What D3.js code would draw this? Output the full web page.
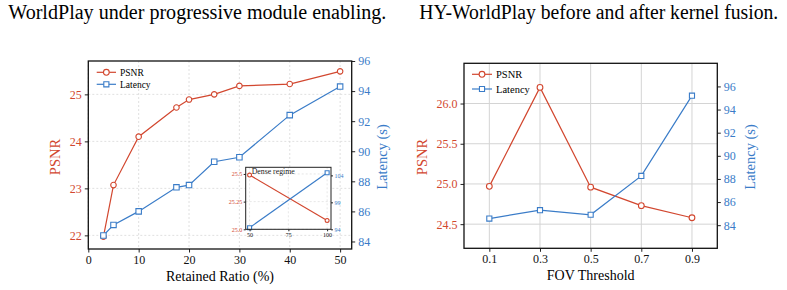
<!DOCTYPE html>
<html>
<head>
<meta charset="utf-8">
<script src="https://cdn.jsdelivr.net/npm/d3@7"></script>
<style>
  body { margin: 0; background: #fff; }
  svg, svg text { font-family: "Liberation Serif", "DejaVu Serif", serif !important; }
</style>
</head>
<body>
<div id="chart"></div>
<script>
// ---- data: left panel (retained ratio sweep) ----
const ratioX = [3, 5, 10, 17.5, 20, 25, 30, 40, 50];
const ratioPsnr = [21.97, 23.07, 24.1, 24.72, 24.89, 25.0, 25.18, 25.22, 25.49];
const ratioLatency = [84.4, 85.1, 86.0, 87.6, 87.75, 89.3, 89.6, 92.4, 94.3];

// inset: dense regime
const denseX = [50, 100];
const densePsnr = [25.49, 25.08];
const denseLatency = [94.3, 104.5];

// ---- data: right panel (FOV threshold sweep) ----
const fovX = [0.1, 0.3, 0.5, 0.7, 0.9];
const fovPsnr = [24.97, 26.2, 24.96, 24.73, 24.58];
const fovLatency = [84.57, 85.3, 84.9, 88.26, 95.2];

// tick labels
const ratioTicks = [0, 10, 20, 30, 40, 50];
const ratioPsnrTicks = [22, 23, 24, 25];
const latencyTicks = [84, 86, 88, 90, 92, 94, 96];
const denseXTicks = [50, 75, 100];
const densePsnrTicks = [25.0, 25.25, 25.5];
const denseLatTicks = [94, 99, 104];
const fovTicks = [0.1, 0.3, 0.5, 0.7, 0.9];
const fovPsnrTicks = [24.5, 25.0, 25.5, 26.0];

const RED = "#d2472f";
const BLUE = "#3a7cc8";

const svg = d3.select("#chart").append("svg")
    .attr("width", 787)
    .attr("height", 290);

// captions (end of the paper's figure captions)
svg.append("text")
    .attr("x", 8.3).attr("y", 19)
    .attr("font-size", 20)
    .attr("textLength", 378).attr("lengthAdjust", "spacingAndGlyphs")
    .text("WorldPlay under progressive module enabling.");
svg.append("text")
    .attr("x", 419.3).attr("y", 19)
    .attr("font-size", 20)
    .attr("textLength", 359).attr("lengthAdjust", "spacingAndGlyphs")
    .text("HY-WorldPlay before and after kernel fusion.");

// draws one series (line + open markers)
function drawSeries(g, xs, ys, x, y, color, shape, size) {
    const pts = xs.map((v, i) => [x(v), y(ys[i])]);
    g.append("path")
        .datum(pts)
        .attr("d", d3.line())
        .attr("fill", "none")
        .attr("stroke", color)
        .attr("stroke-width", 1.2);
    g.selectAll(null)
        .data(pts)
        .join("path")
        .attr("transform", d => `translate(${d[0]},${d[1]})`)
        .attr("d", d3.symbol().type(shape === "circle" ? d3.symbolCircle : d3.symbolSquare).size(size))
        .attr("fill", "#fff")
        .attr("stroke", color)
        .attr("stroke-width", 1.1);
}

function styleAxis(a, color, fs) {
    a.attr("font-family", null);
    a.select(".domain").remove();
    a.selectAll(".tick line").attr("stroke", "#222").attr("stroke-width", 1);
    a.selectAll(".tick text")
        .attr("fill", color)
        .attr("font-size", fs);
}

function legend(g, x0, y0, gap, fs, lineLen) {
    const items = [["PSNR", RED, "circle"], ["Latency", BLUE, "square"]];
    items.forEach((it, i) => {
        const yy = y0 + i * gap;
        g.append("line")
            .attr("x1", x0).attr("x2", x0 + lineLen)
            .attr("y1", yy).attr("y2", yy)
            .attr("stroke", it[1]).attr("stroke-width", 1.2);
        g.append("path")
            .attr("transform", `translate(${x0 + lineLen / 2},${yy})`)
            .attr("d", d3.symbol().type(it[2] === "circle" ? d3.symbolCircle : d3.symbolSquare).size(26))
            .attr("fill", "#fff").attr("stroke", it[1]).attr("stroke-width", 1.1);
        g.append("text")
            .attr("x", x0 + lineLen + 4).attr("y", yy)
            .attr("dy", "0.35em")
            .attr("font-size", fs)
            .text(it[0]);
    });
}

// ================= left panel =================
{
    const L = 88.3, R = 351.7, T = 61, B = 249;
    const x = d3.scaleLinear().domain([0, 52.3]).range([L, R]);
    const yL = d3.scaleLinear().domain([21.71, 25.71]).range([B, T]);
    const yR = d3.scaleLinear().domain([83.5, 96]).range([B, T]);
    const g = svg.append("g");

    // dotted grid
    g.append("g").selectAll("line").data(ratioTicks).join("line")
        .attr("x1", d => x(d)).attr("x2", d => x(d))
        .attr("y1", T).attr("y2", B)
        .attr("stroke", "#d8d8d8").attr("stroke-width", 0.8).attr("stroke-dasharray", "2,2");
    g.append("g").selectAll("line").data(ratioPsnrTicks).join("line")
        .attr("x1", L).attr("x2", R)
        .attr("y1", d => yL(d)).attr("y2", d => yL(d))
        .attr("stroke", "#d8d8d8").attr("stroke-width", 0.8).attr("stroke-dasharray", "2,2");

    drawSeries(g, ratioX, ratioPsnr, x, yL, RED, "circle", 24);
    drawSeries(g, ratioX, ratioLatency, x, yR, BLUE, "square", 30);

    const ax = g.append("g").attr("transform", `translate(0,${B})`)
        .call(d3.axisBottom(x).tickValues(ratioTicks).tickFormat(d3.format("d")).tickSize(3.5).tickPadding(3));
    styleAxis(ax, "#111", 12);
    const al = g.append("g").attr("transform", `translate(${L},0)`)
        .call(d3.axisLeft(yL).tickValues(ratioPsnrTicks).tickFormat(d3.format("d")).tickSize(3.5).tickPadding(3));
    styleAxis(al, RED, 12);
    const ar = g.append("g").attr("transform", `translate(${R},0)`)
        .call(d3.axisRight(yR).tickValues(latencyTicks).tickFormat(d3.format("d")).tickSize(3.5).tickPadding(3));
    styleAxis(ar, BLUE, 12);

    g.append("rect")
        .attr("x", L).attr("y", T).attr("width", R - L).attr("height", B - T)
        .attr("fill", "none").attr("stroke", "#111").attr("stroke-width", 1.3);

    legend(g, 96.7, 72.3, 12, 9.5, 19.3);

    // axis titles
    g.append("text")
        .attr("transform", "translate(55,157) rotate(-90)")
        .attr("text-anchor", "middle").attr("dy", "0.35em")
        .attr("font-size", 14.5).attr("fill", RED).text("PSNR");
    g.append("text")
        .attr("transform", "translate(381.7,157) rotate(-90)")
        .attr("text-anchor", "middle").attr("dy", "0.35em")
        .attr("font-size", 14.5).attr("fill", BLUE).text("Latency (s)");
    g.append("text")
        .attr("x", (L + R) / 2).attr("y", 281)
        .attr("text-anchor", "middle")
        .attr("font-size", 14).text("Retained Ratio (%)");

    // ---- inset ----
    const iL = 245.7, iR = 331, iT = 167.3, iB = 229.3;
    const ix = d3.scaleLinear().domain([47.5, 102.5]).range([iL, iR]);
    const iyL = d3.scaleLinear().domain([25.0, 25.56]).range([iB, iT]);
    const iyR = d3.scaleLinear().domain([94, 105.5]).range([iB, iT]);
    const gi = g.append("g");
    gi.append("rect")
        .attr("x", iL).attr("y", iT).attr("width", iR - iL).attr("height", iB - iT)
        .attr("fill", "#fff");
    gi.append("g").selectAll("line").data(denseXTicks).join("line")
        .attr("x1", d => ix(d)).attr("x2", d => ix(d))
        .attr("y1", iT).attr("y2", iB)
        .attr("stroke", "#ddd").attr("stroke-width", 0.7).attr("stroke-dasharray", "2,2");
    gi.append("g").selectAll("line").data(densePsnrTicks).join("line")
        .attr("x1", iL).attr("x2", iR)
        .attr("y1", d => iyL(d)).attr("y2", d => iyL(d))
        .attr("stroke", "#ddd").attr("stroke-width", 0.7).attr("stroke-dasharray", "2,2");

    drawSeries(gi, denseX, densePsnr, ix, iyL, RED, "circle", 12);
    drawSeries(gi, denseX, denseLatency, ix, iyR, BLUE, "square", 16);

    const iax = gi.append("g").attr("transform", `translate(0,${iB})`)
        .call(d3.axisBottom(ix).tickValues(denseXTicks).tickFormat(d3.format("d")).tickSize(2).tickPadding(1.5));
    styleAxis(iax, "#111", 6);
    const ial = gi.append("g").attr("transform", `translate(${iL},0)`)
        .call(d3.axisLeft(iyL).tickValues(densePsnrTicks).tickSize(2).tickPadding(1.5)
            .tickFormat(d => d === 25.25 ? "25.25" : d3.format(".1f")(d)));
    styleAxis(ial, RED, 6);
    const iar = gi.append("g").attr("transform", `translate(${iR},0)`)
        .call(d3.axisRight(iyR).tickValues(denseLatTicks).tickFormat(d3.format("d")).tickSize(2).tickPadding(1.5));
    styleAxis(iar, BLUE, 6);

    gi.append("rect")
        .attr("x", iL).attr("y", iT).attr("width", iR - iL).attr("height", iB - iT)
        .attr("fill", "none").attr("stroke", "#222").attr("stroke-width", 1);
    gi.append("text")
        .attr("x", iL + 6).attr("y", iT + 7)
        .attr("font-size", 7.8).attr("fill", "#222").text("Dense regime");
}

// ================= right panel =================
{
    const L = 464, R = 717.3, T = 63.3, B = 248.3;
    const x = d3.scaleLinear().domain([0, 1]).range([L, R]);
    const yL = d3.scaleLinear().domain([24.2, 26.5]).range([B, T]);
    const yR = d3.scaleLinear().domain([82, 98]).range([B, T]);
    const g = svg.append("g");

    // solid grid
    g.append("g").selectAll("line").data(fovTicks).join("line")
        .attr("x1", d => x(d)).attr("x2", d => x(d))
        .attr("y1", T).attr("y2", B)
        .attr("stroke", "#d4d4d4").attr("stroke-width", 1);
    g.append("g").selectAll("line").data(fovPsnrTicks).join("line")
        .attr("x1", L).attr("x2", R)
        .attr("y1", d => yL(d)).attr("y2", d => yL(d))
        .attr("stroke", "#d4d4d4").attr("stroke-width", 1);

    drawSeries(g, fovX, fovPsnr, x, yL, RED, "circle", 26);
    drawSeries(g, fovX, fovLatency, x, yR, BLUE, "square", 26);

    const ax = g.append("g").attr("transform", `translate(0,${B})`)
        .call(d3.axisBottom(x).tickValues(fovTicks).tickFormat(d3.format(".1f")).tickSize(3.5).tickPadding(3));
    styleAxis(ax, "#111", 12);
    const al = g.append("g").attr("transform", `translate(${L},0)`)
        .call(d3.axisLeft(yL).tickValues(fovPsnrTicks).tickFormat(d3.format(".1f")).tickSize(3.5).tickPadding(3));
    styleAxis(al, RED, 12);
    const ar = g.append("g").attr("transform", `translate(${R},0)`)
        .call(d3.axisRight(yR).tickValues(latencyTicks).tickFormat(d3.format("d")).tickSize(3.5).tickPadding(3));
    styleAxis(ar, BLUE, 12);

    g.append("rect")
        .attr("x", L).attr("y", T).attr("width", R - L).attr("height", B - T)
        .attr("fill", "none").attr("stroke", "#111").attr("stroke-width", 1.3);

    legend(g, 472, 74.3, 14.7, 10.5, 20);

    g.append("text")
        .attr("transform", "translate(421.7,157) rotate(-90)")
        .attr("text-anchor", "middle").attr("dy", "0.35em")
        .attr("font-size", 14.5).attr("fill", RED).text("PSNR");
    g.append("text")
        .attr("transform", "translate(750,157) rotate(-90)")
        .attr("text-anchor", "middle").attr("dy", "0.35em")
        .attr("font-size", 14.5).attr("fill", BLUE).text("Latency (s)");
    g.append("text")
        .attr("x", (L + R) / 2).attr("y", 280)
        .attr("text-anchor", "middle")
        .attr("font-size", 14).text("FOV Threshold");
}
</script>
</body>
</html>
